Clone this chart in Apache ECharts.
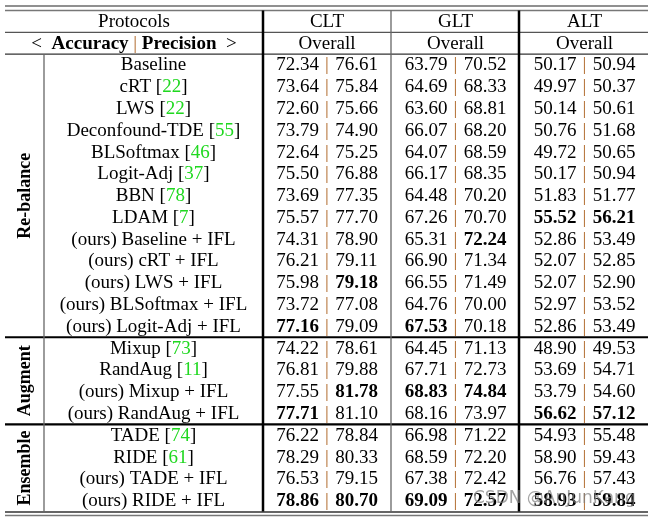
<!DOCTYPE html>
<html><head><meta charset="utf-8">
<script src="https://cdn.jsdelivr.net/npm/echarts@6/dist/echarts.min.js"></script>
<style>html,body{margin:0;padding:0;background:#fff}#c{width:653px;height:519px}</style>
</head><body><div id="c"></div>
<script>
// ---------- data ----------
const headerTitle = 'Protocols';
const protocols = ['CLT', 'GLT', 'ALT'];
const subHeader = 'Overall';
const groups = ['Re-balance', 'Augment', 'Ensemble'];
const groupSizes = [13, 4, 4];
const methods = ['Baseline', 'cRT', 'LWS', 'Deconfound-TDE', 'BLSoftmax', 'Logit-Adj', 'BBN', 'LDAM',
  '(ours) Baseline + IFL', '(ours) cRT + IFL', '(ours) LWS + IFL', '(ours) BLSoftmax + IFL', '(ours) Logit-Adj + IFL',
  'Mixup', 'RandAug', '(ours) Mixup + IFL', '(ours) RandAug + IFL',
  'TADE', 'RIDE', '(ours) TADE + IFL', '(ours) RIDE + IFL'];
const cites = ['', '22', '22', '55', '46', '37', '78', '7', '', '', '', '', '', '73', '11', '', '', '74', '61', '', ''];
const cltAcc = [72.34, 73.64, 72.60, 73.79, 72.64, 75.50, 73.69, 75.57, 74.31, 76.21, 75.98, 73.72, 77.16, 74.22, 76.81, 77.55, 77.71, 76.22, 78.29, 76.53, 78.86];
const cltPrec = [76.61, 75.84, 75.66, 74.90, 75.25, 76.88, 77.35, 77.70, 78.90, 79.11, 79.18, 77.08, 79.09, 78.61, 79.88, 81.78, 81.10, 78.84, 80.33, 79.15, 80.70];
const gltAcc = [63.79, 64.69, 63.60, 66.07, 64.07, 66.17, 64.48, 67.26, 65.31, 66.90, 66.55, 64.76, 67.53, 64.45, 67.71, 68.83, 68.16, 66.98, 68.59, 67.38, 69.09];
const gltPrec = [70.52, 68.33, 68.81, 68.20, 68.59, 68.35, 70.20, 70.70, 72.24, 71.34, 71.49, 70.00, 70.18, 71.13, 72.73, 74.84, 73.97, 71.22, 72.20, 72.42, 72.57];
const altAcc = [50.17, 49.97, 50.14, 50.76, 49.72, 50.17, 51.83, 55.52, 52.86, 52.07, 52.07, 52.97, 52.86, 48.90, 53.69, 53.79, 56.62, 54.93, 58.90, 56.76, 58.93];
const altPrec = [50.94, 50.37, 50.61, 51.68, 50.65, 50.94, 51.77, 56.21, 53.49, 52.85, 52.90, 53.52, 53.49, 49.53, 54.71, 54.60, 57.12, 55.48, 59.43, 57.43, 59.84];
const cltAccBold = [12, 16, 20];
const cltPrecBold = [10, 15, 20];
const gltAccBold = [12, 15, 20];
const gltPrecBold = [8, 15, 20];
const altAccBold = [7, 16, 20];
const altPrecBold = [7, 16, 20];
const watermark = 'CSDN @AnJunKang';

// ---------- layout / style ----------
const FAM = '"Liberation Serif", "Times New Roman", Times, serif';
const FS = 19;
const GREEN = '#1fd81f';
const SEP = '#b06a2c';
const HEADER_ROWS = 2;
const L = {
  width: 653, groupX: 25, methodX: 153.5, headX: 134,
  protoX: [327, 455.5, 584.5], dx: 29.5,
  lineX0: 5, lineX1: 648,
  vlines: [[44, 2, 'thin'], [263, 0, 'thick'], [391, 0, 'thin'], [519, 0, 'thick']]
};

const colData = [[cltAcc, cltPrec, cltAccBold, cltPrecBold], [gltAcc, gltPrec, gltAccBold, gltPrecBold], [altAcc, altPrec, altAccBold, altPrecBold]];
const nRows = HEADER_ROWS + methods.length;
const rowNames = ['h1', 'h2'].concat(methods);

// cells
const cells = [];
cells.push({x: L.headX, row: 0, text: headerTitle});
cells.push({x: L.headX, row: 1, text: '<  {b|Accuracy} {s||} {b|Precision}  >'});
protocols.forEach((p, i) => {
  cells.push({x: L.protoX[i], row: 0, text: p});
  cells.push({x: L.protoX[i], row: 1, text: subHeader});
});
methods.forEach((m, r) => {
  const row = r + HEADER_ROWS;
  cells.push({x: L.methodX, row, text: cites[r] ? m + ' [{g|' + cites[r] + '}]' : m});
  colData.forEach((cd, i) => {
    cells.push({x: L.protoX[i] - L.dx, row, text: cd[0][r].toFixed(2), bold: cd[2].includes(r)});
    cells.push({x: L.protoX[i], row, text: '{s||}'});
    cells.push({x: L.protoX[i] + L.dx, row, text: cd[1][r].toFixed(2), bold: cd[3].includes(r)});
  });
});

// group labels
const groupCells = [];
let start = HEADER_ROWS;
groups.forEach((g, i) => {
  groupCells.push({name: g, from: start, to: start + groupSizes[i] - 1});
  start += groupSizes[i];
});

// rules: horizontal at row boundaries
const hrules = [
  {b: 0, off: -4.5, w: 1.2, c: '#222'},
  {b: 0, off: 0, w: 1.5, c: '#777'},
  {b: 1, off: 0, w: 1.3, c: '#555'},
  {b: 2, off: 0, w: 1.3, c: '#333'},
  {b: HEADER_ROWS + groupSizes[0], off: 0, w: 2.2, c: '#000'},
  {b: HEADER_ROWS + groupSizes[0] + groupSizes[1], off: 0, w: 2.2, c: '#000'},
  {b: nRows, off: 0.5, w: 1.4, c: '#333'},
  {b: nRows, off: 4, w: 1.4, c: '#777'}
];

const chart = echarts.init(document.getElementById('c'), null, {renderer: 'canvas'});
const baseFont = {fontFamily: FAM, fontSize: FS};
const rich = {
  g: Object.assign({fill: GREEN, color: GREEN}, baseFont),
  b: Object.assign({fill: '#000', color: '#000', fontWeight: 'bold'}, baseFont),
  s: Object.assign({fill: SEP, color: SEP}, baseFont)
};

function bandEdge(api, b) {
  const half = api.size([0, 1])[1] / 2;
  if (b >= nRows) return api.coord([0, nRows - 1])[1] + half;
  return api.coord([0, b])[1] - half;
}

chart.setOption({
  animation: false,
  grid: {left: 0, right: 0, top: 10.5, bottom: 7.5},
  xAxis: {type: 'value', min: 0, max: L.width, show: false},
  yAxis: {type: 'category', data: rowNames, inverse: true, show: false},
  series: [
    {
      type: 'custom', name: 'cells', silent: true,
      data: cells.map(c => [c.x, c.row]),
      renderItem: (params, api) => {
        const c = cells[params.dataIndex];
        const p = api.coord([c.x, c.row]);
        return {
          type: 'text', x: p[0], y: p[1] + 0.5,
          style: {
            text: c.text, rich: rich, fill: '#000',
            fontFamily: FAM, fontSize: FS, fontWeight: c.bold ? 'bold' : 'normal',
            align: 'center', verticalAlign: 'middle'
          }
        };
      }
    },
    {
      type: 'custom', name: 'groups', silent: true,
      data: groupCells.map(g => [L.groupX, g.from, g.to]),
      renderItem: (params, api) => {
        const g = groupCells[params.dataIndex];
        const a = api.coord([L.groupX, g.from]);
        const b = api.coord([L.groupX, g.to]);
        return {
          type: 'text', x: a[0], y: (a[1] + b[1]) / 2, rotation: Math.PI / 2,
          style: {
            text: g.name, fill: '#000', fontFamily: FAM, fontSize: 18, fontWeight: 'bold',
            align: 'center', verticalAlign: 'middle'
          }
        };
      }
    },
    {
      type: 'custom', name: 'hrules', silent: true,
      data: hrules.map(h => [0, Math.min(h.b, nRows - 1)]),
      renderItem: (params, api) => {
        const h = hrules[params.dataIndex];
        const y = bandEdge(api, h.b) + h.off;
        const x0 = api.coord([L.lineX0, 0])[0], x1 = api.coord([L.lineX1, 0])[0];
        return {type: 'line', shape: {x1: x0, y1: y, x2: x1, y2: y}, style: {stroke: h.c, lineWidth: h.w}};
      }
    },
    {
      type: 'custom', name: 'vrules', silent: true,
      data: L.vlines.map(v => [v[0], v[1]]),
      renderItem: (params, api) => {
        const v = L.vlines[params.dataIndex];
        const x = api.coord([v[0], 0])[0];
        const thick = v[2] === 'thick';
        return {
          type: 'line',
          shape: {x1: x, y1: bandEdge(api, v[1]), x2: x, y2: bandEdge(api, nRows)},
          style: {stroke: thick ? '#000' : '#666', lineWidth: thick ? 2.5 : 1.3}
        };
      }
    }
  ],
  graphic: [{
    type: 'text', left: 473, top: 490, silent: true, z: 100,
    style: {text: watermark, fill: 'rgba(125,125,125,0.7)', font: '17px "DejaVu Sans", sans-serif'}
  }]
});
</script>
</body></html>
